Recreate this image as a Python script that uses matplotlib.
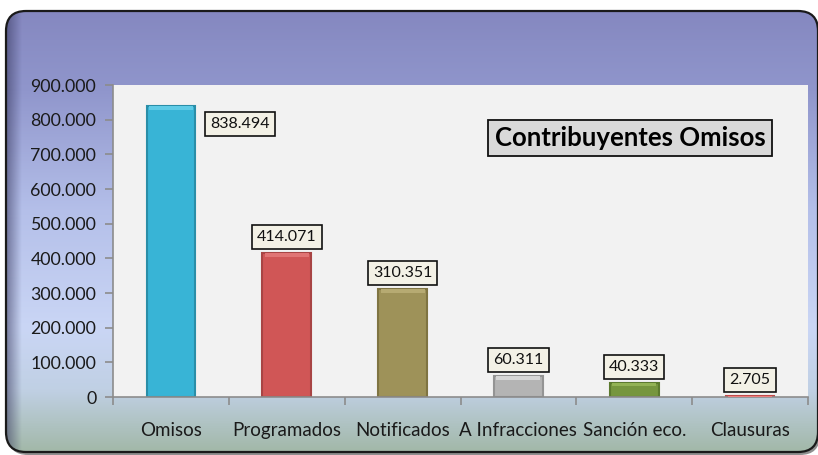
import matplotlib
matplotlib.use("Agg")
import matplotlib.pyplot as plt
import numpy as np
from matplotlib.patches import FancyBboxPatch
from matplotlib.colors import LinearSegmentedColormap
from matplotlib.ticker import FuncFormatter, MultipleLocator

categories = ["Omisos", "Programados", "Notificados", "A Infracciones", "Sanción eco.", "Clausuras"]
values = [838494, 414071, 310351, 60311, 40333, 2705]
labels = ["838.494", "414.071", "310.351", "60.311", "40.333", "2.705"]
colors = ["#38b4d6", "#d05656", "#9e9259", "#b4b4b4", "#76963e", "#e05a5a"]
edge_colors = ["#2a8ea8", "#a84444", "#7f7442", "#949494", "#5c7a2e", "#c04a4a"]
top_colors = ["#5fcbe6", "#e07474", "#b6aa72", "#d6d6d6", "#92b254", "#ec8080"]

FONT = "Lato"
W, H = 818, 455
fig = plt.figure(figsize=(W / 100, H / 100), dpi=100)

# background with rounded box and gradient
bg = fig.add_axes([0, 0, 1, 1])
bg.set_xlim(0, W)
bg.set_ylim(H, 0)
bg.axis("off")
cmap = LinearSegmentedColormap.from_list(
    "bg",
    [(0.0, "#8588c0"), (0.18, "#9096cc"), (0.45, "#b4bfe9"), (0.72, "#cad6f5"),
     (0.86, "#c0d0e4"), (1.0, "#a2b8a8")])
grad = np.linspace(0, 1, 256).reshape(-1, 1)
shadow = FancyBboxPatch((8, 13), 812, 442, boxstyle="round,pad=0,rounding_size=20",
                        facecolor="#202020", edgecolor="none", alpha=0.5, zorder=0)
bg.add_patch(shadow)
box = FancyBboxPatch((6, 11), 812, 441, boxstyle="round,pad=0,rounding_size=20",
                     facecolor="none", edgecolor="#1a1a1a", linewidth=1.6, zorder=3)
bg.add_patch(box)
im = bg.imshow(grad, cmap=cmap, extent=(6, 818, 452, 11), aspect="auto", zorder=1)
im.set_clip_path(box)
lg = np.linspace(0, 1, 64).reshape(1, -1)
lcmap = LinearSegmentedColormap.from_list("l", [(0, (0.2, 0.2, 0.35, 0.55)), (1, (0.2, 0.2, 0.35, 0.0))])
im2 = bg.imshow(lg, cmap=lcmap, extent=(6, 22, 452, 11), aspect="auto", zorder=2)
im2.set_clip_path(box)

# chart axes
ax = fig.add_axes([113 / W, 1 - 397 / H, (808 - 113) / W, (397 - 85) / H])
ax.set_facecolor("#f2f2f2")
x = np.arange(len(categories))
bw = 0.42
ax.bar(x, values, width=bw, color=colors, edgecolor=edge_colors, linewidth=1.5, zorder=2)
# top bevel highlight
cap = [min(v, 10000) for v in values]
ax.bar(x, cap, width=bw - 0.04, bottom=[v - c for v, c in zip(values, cap)],
       color=top_colors, edgecolor="none", zorder=3)

ax.set_xlim(-0.5, len(categories) - 0.5)
ax.set_ylim(0, 900000)
ax.yaxis.set_major_locator(MultipleLocator(100000))
ax.yaxis.set_major_formatter(FuncFormatter(lambda v, p: f"{int(v):,}".replace(",", ".")))
ax.set_xticks(x)
ax.set_xticklabels(categories)
ax.set_xticks(np.arange(-0.5, len(categories)), minor=True)
ax.tick_params(axis="x", which="major", length=0, pad=18, labelsize=13.5, labelcolor="#1a1a1a")
ax.tick_params(axis="x", which="minor", length=6, color="#8c8c8c", width=1.2)
ax.tick_params(axis="y", length=6, color="#8c8c8c", width=1.2, labelsize=12.8,
               labelcolor="#1a1a1a", pad=6)
for t in ax.get_xticklabels() + ax.get_yticklabels():
    t.set_fontfamily(FONT)
for s in ["top", "right"]:
    ax.spines[s].set_visible(False)
for s in ["left", "bottom"]:
    ax.spines[s].set_color("#8c8c8c")
    ax.spines[s].set_linewidth(1.2)

bbox = dict(boxstyle="square,pad=0.32", facecolor="#f3f1e6", edgecolor="#111111", linewidth=1.2)
for i, (v, lab) in enumerate(zip(values, labels)):
    if i == 0:
        ax.text(i + 0.6, v - 52000, lab, ha="center", va="center", fontsize=11.5,
                family=FONT, bbox=bbox, zorder=5, color="#111111")
    else:
        ax.text(i, v + 47000, lab, ha="center", va="center", fontsize=11.5,
                family=FONT, bbox=bbox, zorder=5, color="#111111")

ax.text(0.744, 0.83, "Contribuyentes Omisos", transform=ax.transAxes, ha="center", va="center",
        fontsize=18.5, fontweight="bold", family=FONT, color="#000000",
        bbox=dict(boxstyle="square,pad=0.25", facecolor="#d9d9d9", edgecolor="#111111", linewidth=1.3),
        zorder=5)

fig.savefig("out.png", dpi=100)
